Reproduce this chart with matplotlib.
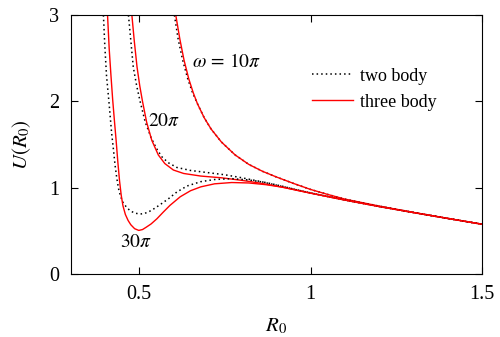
import matplotlib
matplotlib.use("Agg")
import matplotlib.pyplot as plt

plt.rcParams["font.family"] = ["Liberation Serif", "DejaVu Serif"]
plt.rcParams["mathtext.fontset"] = "stix"

# values
tail_x = [1.1, 1.2, 1.3, 1.4, 1.5]
tail_y = [0.857, 0.782, 0.712, 0.644, 0.577]

w10_two_x = [0.603, 0.614, 0.627, 0.642, 0.656, 0.670, 0.69, 0.71, 0.74, 0.78, 0.82, 0.86, 0.90, 0.95, 1.0, 1.05, 1.1, 1.2, 1.3, 1.4, 1.5]
w10_two_y = [3.0, 2.72, 2.48, 2.26, 2.10, 1.975, 1.81, 1.68, 1.53, 1.38, 1.27, 1.19, 1.125, 1.05, 0.98, 0.922, 0.868, 0.787, 0.714, 0.644, 0.577]
w10_three_x = [0.607, 0.619, 0.631, 0.645, 0.658, 0.670, 0.69, 0.71, 0.74, 0.78, 0.82, 0.86, 0.90, 0.95, 1.0, 1.05, 1.1, 1.2, 1.3, 1.4, 1.5]
w10_three_y = [3.0, 2.72, 2.48, 2.26, 2.10, 1.975, 1.81, 1.68, 1.53, 1.38, 1.27, 1.19, 1.125, 1.05, 0.98, 0.922, 0.868, 0.787, 0.714, 0.644, 0.577]

w20_two_x = [0.469, 0.476, 0.483, 0.493, 0.503, 0.518, 0.535, 0.550, 0.566, 0.585, 0.61, 0.65, 0.70, 0.75, 0.80, 0.85, 0.90, 0.95, 1.0, 1.05]
w20_two_y = [3.0, 2.70, 2.40, 2.18, 2.00, 1.76, 1.58, 1.46, 1.36, 1.29, 1.235, 1.20, 1.175, 1.15, 1.115, 1.075, 1.03, 0.985, 0.94, 0.898]
w20_three_x = [0.479, 0.486, 0.494, 0.502, 0.510, 0.522, 0.537, 0.556, 0.575, 0.60, 0.63, 0.68, 0.74, 0.80, 0.85, 0.90, 0.95, 1.0, 1.05]
w20_three_y = [3.0, 2.70, 2.40, 2.18, 2.00, 1.76, 1.55, 1.38, 1.28, 1.205, 1.165, 1.135, 1.115, 1.085, 1.055, 1.02, 0.98, 0.937, 0.897]

w30_two_x = [0.396, 0.400, 0.405, 0.412, 0.420, 0.425, 0.430, 0.435, 0.440, 0.446, 0.453, 0.464, 0.475, 0.488, 0.503, 0.515, 0.53, 0.545, 0.56, 0.585, 0.61, 0.64, 0.68, 0.72, 0.77, 0.82, 0.87, 0.92, 0.96, 1.0, 1.05]
w30_two_y = [3.0, 2.65, 2.30, 2.00, 1.63, 1.45, 1.26, 1.11, 0.99, 0.90, 0.83, 0.77, 0.73, 0.705, 0.695, 0.70, 0.725, 0.76, 0.80, 0.87, 0.95, 1.02, 1.07, 1.095, 1.105, 1.09, 1.06, 1.015, 0.975, 0.94, 0.898]
w30_three_x = [0.408, 0.413, 0.418, 0.423, 0.428, 0.433, 0.438, 0.443, 0.448, 0.453, 0.460, 0.468, 0.476, 0.487, 0.499, 0.51, 0.52, 0.535, 0.552, 0.57, 0.59, 0.62, 0.65, 0.68, 0.72, 0.77, 0.82, 0.87, 0.92, 0.96, 1.0, 1.05]
w30_three_y = [3.0, 2.60, 2.30, 2.02, 1.78, 1.55, 1.30, 1.08, 0.91, 0.79, 0.69, 0.62, 0.57, 0.525, 0.505, 0.515, 0.54, 0.58, 0.64, 0.715, 0.795, 0.895, 0.965, 1.01, 1.045, 1.06, 1.055, 1.035, 1.005, 0.97, 0.937, 0.897]

two_x = [w10_two_x, w20_two_x + tail_x, w30_two_x + tail_x]
two_y = [w10_two_y, w20_two_y + tail_y, w30_two_y + tail_y]
three_x = [w10_three_x, w20_three_x + tail_x, w30_three_x + tail_x]
three_y = [w10_three_y, w20_three_y + tail_y, w30_three_y + tail_y]

fig = plt.figure(figsize=(5.0, 3.37), dpi=100)
ax = fig.add_axes([0.141, 0.187, 0.823, 0.768])

for i in range(3):
    ax.plot(two_x[i], two_y[i], color="black", lw=1.1, ls=(0, (1, 2)),
            label="two body" if i == 0 else None)
    ax.plot(three_x[i], three_y[i], color="red", lw=1.0,
            label="three body" if i == 0 else None)

ax.text(0.754, 2.46, r"$\omega\,=\,10\pi$", fontsize=14, ha="center", va="center")
ax.text(0.573, 1.765, r"$20\pi$", fontsize=14, ha="center", va="center")
ax.text(0.491, 0.36, r"$30\pi$", fontsize=14, ha="center", va="center")

ax.set_xlim(0.3, 1.5)
ax.set_ylim(0, 3)
ax.set_xticks([0.5, 1, 1.5])
ax.set_xticklabels(["0.5", "1", "1.5"])
ax.set_yticks([0, 1, 2, 3])
ax.tick_params(direction="in", top=True, right=True, labelsize=14.5, length=5, pad=8)
ax.set_xlabel(r"$R_0$", fontsize=15, labelpad=9)
ax.set_ylabel(r"$U(R_0)$", fontsize=15, labelpad=12)

ax.legend(loc="upper right", bbox_to_anchor=(0.93, 0.86), frameon=False, fontsize=13,
          handlelength=2.3, handletextpad=0.4, labelspacing=0.5)

fig.savefig("out.png", dpi=100)
